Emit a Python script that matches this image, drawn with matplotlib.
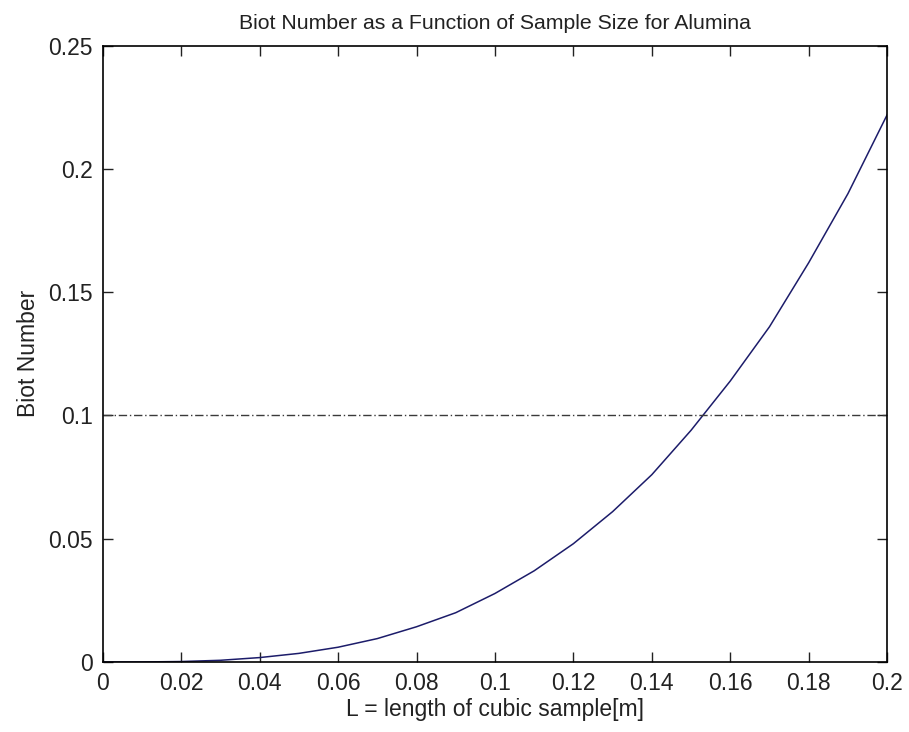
import numpy as np
import matplotlib
matplotlib.use('Agg')
import matplotlib.pyplot as plt
from matplotlib import rcParams
rcParams['font.family'] = 'Liberation Sans'

# Sample side length [m] and Biot number
L = [0.00, 0.01, 0.02, 0.03, 0.04, 0.05, 0.06, 0.07, 0.08, 0.09, 0.10,
     0.11, 0.12, 0.13, 0.14, 0.15, 0.16, 0.17, 0.18, 0.19, 0.20]
Bi = [0.0, 0.00003, 0.0002, 0.0007, 0.0018, 0.0035, 0.006, 0.0095, 0.0143, 0.020, 0.0278,
      0.037, 0.048, 0.061, 0.076, 0.094, 0.114, 0.136, 0.162, 0.190, 0.222]

# Lumped capacitance limit
Bi_limit = 0.1
x_ticks = [0, 0.02, 0.04, 0.06, 0.08, 0.1, 0.12, 0.14, 0.16, 0.18, 0.2]
y_ticks = [0, 0.05, 0.1, 0.15, 0.2, 0.25]
x_labels = ['0', '0.02', '0.04', '0.06', '0.08', '0.1', '0.12', '0.14', '0.16', '0.18', '0.2']
y_labels = ['0', '0.05', '0.1', '0.15', '0.2', '0.25']

fig = plt.figure(figsize=(9.09, 7.32), dpi=100)
ax = fig.add_axes([0.113, 0.0956, 0.863, 0.842])

ax.plot(L, Bi, color='#1c1c6a', linewidth=1.1)
ax.plot([L[0], L[-1]], [Bi_limit, Bi_limit], color='#3a3a3a', linewidth=1.0,
        linestyle=(0, (6, 2, 1, 2)))

ax.set_xlim(0, 0.2)
ax.set_ylim(0, 0.25)
ax.set_xticks(x_ticks)
ax.set_yticks(y_ticks)
ax.set_xticklabels(x_labels)
ax.set_yticklabels(y_labels)
ax.tick_params(direction='in', top=True, right=True, length=7, width=1,
               labelsize=16.5, colors='#222222')
ax.tick_params(axis='y', pad=7)
ax.tick_params(axis='x', pad=7)
for s in ax.spines.values():
    s.set_linewidth(1.2)

ax.set_title('Biot Number as a Function of Sample Size for Alumina', fontsize=15.3, pad=12,
             color='#222222')
ax.set_xlabel('L = length of cubic sample[m]', fontsize=16.5, labelpad=2, color='#222222')
ax.set_ylabel('Biot Number', fontsize=16.5, labelpad=6, color='#222222')

plt.savefig('out.png', dpi=100)
